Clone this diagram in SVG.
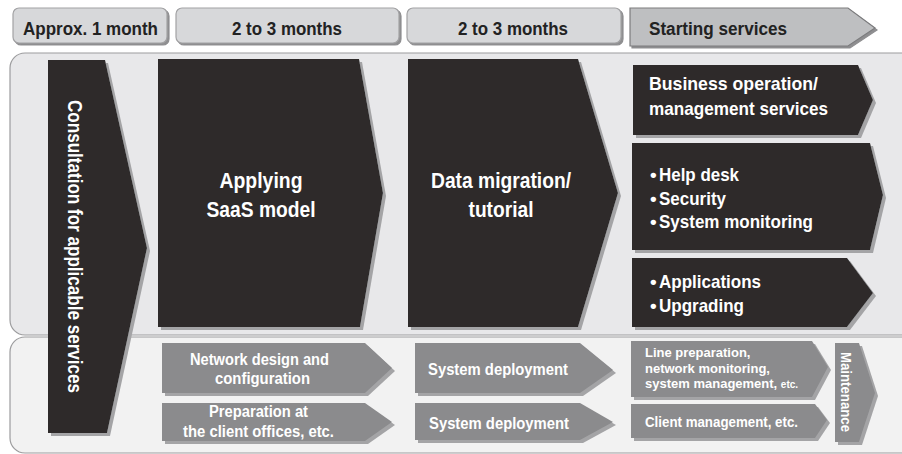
<svg xmlns="http://www.w3.org/2000/svg" width="902" height="454" viewBox="0 0 902 454">
<defs>
<filter id="sh" x="-10%" y="-10%" width="125%" height="125%">
<feOffset in="SourceAlpha" dx="3" dy="3" result="o"/>
<feFlood flood-color="#a4a4a6"/>
<feComposite in2="o" operator="in"/>
<feMerge><feMergeNode/><feMergeNode in="SourceGraphic"/></feMerge>
</filter>
<filter id="sh2" x="-10%" y="-10%" width="125%" height="125%">
<feOffset in="SourceAlpha" dx="2" dy="2" result="o"/>
<feFlood flood-color="#8e8e90"/>
<feComposite in2="o" operator="in"/>
<feMerge><feMergeNode/><feMergeNode in="SourceGraphic"/></feMerge>
</filter>
</defs>
<style>
text{font-family:"Liberation Sans",Arial,sans-serif;font-weight:bold}
.hd{font-size:18px;fill:#222}
.tab{fill:#d7d8da;stroke:#a2a2a4;stroke-width:1.2}
.dk{fill:#2d2b2c;filter:url(#sh)}
.gr{fill:#8b8b8d;filter:url(#sh)}
.w{fill:#ffffff}
.big{font-size:22px}
.mid{font-size:19px}
.sm{font-size:16px}
.xs{font-size:15px}
.xxs{font-size:13px}
</style>
<rect width="902" height="454" fill="#ffffff"/>
<rect x="10" y="53" width="920" height="282" rx="15" fill="#e8e8ea" stroke="#9c9c9e" stroke-width="1.2"/>
<rect x="10" y="337" width="920" height="116" rx="15" fill="#f2f2f2" stroke="#9c9c9e" stroke-width="1.2"/>

<g id="tab1"><rect class="tab" x="13" y="8" width="154" height="35" rx="6" filter="url(#sh2)"/><text class="hd" x="90.5" y="35" text-anchor="middle" textLength="135" lengthAdjust="spacingAndGlyphs">Approx. 1 month</text></g>
<g id="tab2"><rect class="tab" x="176" y="8" width="223" height="35" rx="6" filter="url(#sh2)"/><text class="hd" x="287" y="35" text-anchor="middle" textLength="110" lengthAdjust="spacingAndGlyphs">2 to 3 months</text></g>
<g id="tab3"><rect class="tab" x="407" y="8" width="214" height="35" rx="6" filter="url(#sh2)"/><text class="hd" x="513" y="35" text-anchor="middle" textLength="110" lengthAdjust="spacingAndGlyphs">2 to 3 months</text></g>
<g id="tab4"><polygon points="630,8 848,8 875,28 848,46 630,46" fill="#bebfc1" stroke="#7c7c7e" stroke-width="1.2" filter="url(#sh2)"/><text class="hd" x="649" y="35" textLength="138" lengthAdjust="spacingAndGlyphs">Starting services</text></g>

<g id="consultation"><polygon class="dk" points="48,60 105,60 147,248 107,433 48,433"/><text class="w" font-size="20" transform="translate(68,246.5) rotate(90)" text-anchor="middle" textLength="293" lengthAdjust="spacingAndGlyphs">Consultation for applicable services</text></g>

<g id="saas"><polygon class="dk" points="158,59 359,59 383,193 360,327 158,327"/><text class="w big" x="261" y="188" text-anchor="middle" textLength="83" lengthAdjust="spacingAndGlyphs">Applying</text><text class="w big" x="261" y="217" text-anchor="middle" textLength="109" lengthAdjust="spacingAndGlyphs">SaaS model</text></g>

<g id="migration"><polygon class="dk" points="408,59 578,59 618,193 578,327 408,327"/><text class="w big" x="501" y="188" text-anchor="middle" textLength="140" lengthAdjust="spacingAndGlyphs">Data migration/</text><text class="w big" x="501" y="217" text-anchor="middle" textLength="65" lengthAdjust="spacingAndGlyphs">tutorial</text></g>

<g id="business"><polygon class="dk" points="633,65 858,65 873,100 858,135 633,135"/><text class="w mid" x="649" y="90" textLength="169" lengthAdjust="spacingAndGlyphs">Business operation/</text><text class="w mid" x="649" y="115" textLength="179" lengthAdjust="spacingAndGlyphs">management services</text></g>

<g id="helpdesk"><polygon class="dk" points="632,143 870,143 883,195 870,250 632,250"/>
<text class="w mid" x="650" y="181">•<tspan x="659" textLength="80" lengthAdjust="spacingAndGlyphs">Help desk</tspan></text>
<text class="w mid" x="650" y="205">•<tspan x="659" textLength="67" lengthAdjust="spacingAndGlyphs">Security</tspan></text>
<text class="w mid" x="650" y="228">•<tspan x="659" textLength="154" lengthAdjust="spacingAndGlyphs">System monitoring</tspan></text></g>

<g id="applications"><polygon class="dk" points="632,258 847,258 873,293 847,327 632,327"/>
<text class="w mid" x="650" y="288">•<tspan x="659" textLength="102" lengthAdjust="spacingAndGlyphs">Applications</tspan></text>
<text class="w mid" x="650" y="312">•<tspan x="659" textLength="85" lengthAdjust="spacingAndGlyphs">Upgrading</tspan></text></g>

<g id="network"><polygon class="gr" points="162,343 365,343 392,368 365,393 162,393"/><text class="w sm" x="259.5" y="365" text-anchor="middle" textLength="139" lengthAdjust="spacingAndGlyphs">Network design and</text><text class="w sm" x="262.5" y="384" text-anchor="middle" textLength="95" lengthAdjust="spacingAndGlyphs">configuration</text></g>

<g id="preparation"><polygon class="gr" points="162,403 365,403 392,422 365,441 162,441"/><text class="w sm" x="258.5" y="417" text-anchor="middle" textLength="99" lengthAdjust="spacingAndGlyphs">Preparation at</text><text class="w sm" x="258.5" y="437" text-anchor="middle" textLength="151" lengthAdjust="spacingAndGlyphs">the client offices, etc.</text></g>

<g id="deploy1"><polygon class="gr" points="415,343 580,343 613,370 580,393 415,393"/><text class="w" font-size="17" x="428" y="375" textLength="140" lengthAdjust="spacingAndGlyphs">System deployment</text></g>

<g id="deploy2"><polygon class="gr" points="415,403 580,403 613,422 580,440 415,440"/><text class="w" font-size="17" x="429" y="429" textLength="140" lengthAdjust="spacingAndGlyphs">System deployment</text></g>

<g id="line"><polygon class="gr" points="631,341 812,341 828,367 812,397 631,397"/>
<text class="w xxs" x="645" y="357">Line preparation,</text>
<text class="w xxs" x="645" y="372.5">network monitoring,</text>
<text class="w xxs" x="645" y="388">system management, <tspan font-size="10">etc.</tspan></text></g>

<g id="client"><polygon class="gr" points="631,404 815,404 827,420 815,438 631,438"/><text class="w xs" x="645" y="427" textLength="153" lengthAdjust="spacingAndGlyphs">Client management, etc.</text></g>

<g id="maintenance"><polygon class="gr" points="835,343 859,343 875,393 859,442 835,442"/><text class="w xs" transform="translate(841,392) rotate(90)" text-anchor="middle" textLength="80" lengthAdjust="spacingAndGlyphs">Maintenance</text></g>

<g id="connectors"></g>
</svg>
